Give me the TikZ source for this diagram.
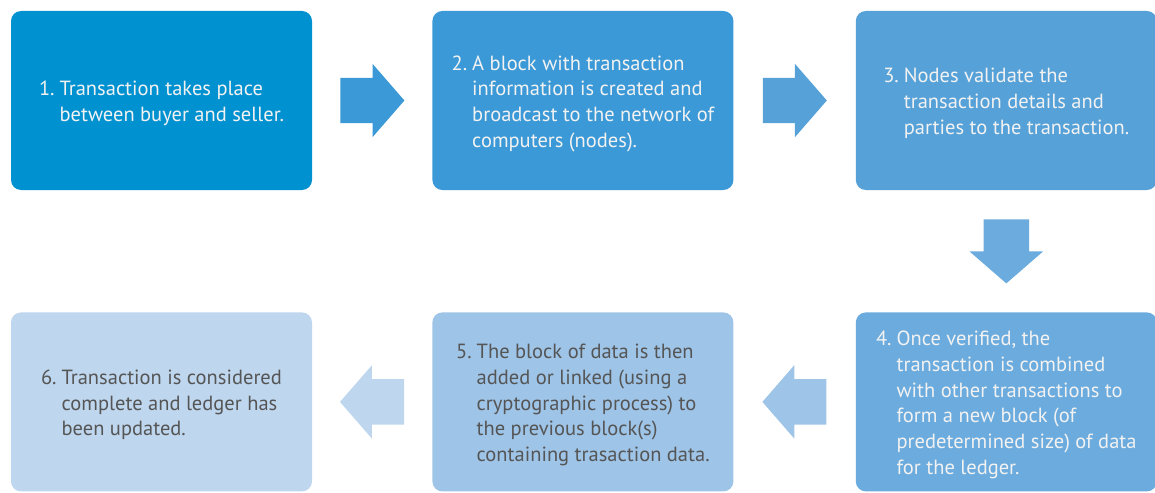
\documentclass[tikz,border=0pt]{standalone}
\usepackage{fontspec}
\setmainfont{PT Sans}
\usetikzlibrary{positioning, shapes.arrows, calc}

\definecolor{stepA}{HTML}{0091D0}
\definecolor{stepB}{HTML}{3A99D6}
\definecolor{stepC}{HTML}{55A1D8}
\definecolor{stepD}{HTML}{6BABDD}
\definecolor{stepE}{HTML}{9EC4E7}
\definecolor{stepF}{HTML}{BED6EE}
\definecolor{darktext}{HTML}{555555}

\newcommand{\steptext}[3]{%
  \raisebox{-3pt}[\height][\depth]{%
  \begin{tabular}{@{}l@{\hspace{5pt}}l@{}}#1 & #2\\#3\end{tabular}}}

\begin{document}
\begin{tikzpicture}[
  stepbox/.style={rectangle, rounded corners=10pt, minimum width=301pt,
    minimum height=179pt, inner sep=0pt, text=white!95!black,
    font=\fontsize{20.5}{25.7}\selectfont},
  paletext/.style={text=darktext},
  blockarrow/.style={single arrow, minimum height=64pt, inner xsep=0pt,
    inner ysep=22.5pt, single arrow head extend=14pt,
    single arrow tip angle=98, anchor=tail}
]
\useasboundingbox (0,0) rectangle (1155pt,-492pt);
% === TOP ROW ===
\node[stepbox, fill=stepA] (s1) at (161.5pt,-100.5pt)
  {\steptext{1.}{Transaction takes place}{& between buyer and seller.}};
\node[stepbox, fill=stepB, right=120pt of s1] (s2)
  {\steptext{2.}{A block with transaction}{& information is created and\\
   & broadcast to the network of\\ & computers (nodes).}};
\node[stepbox, fill=stepC, right=122pt of s2] (s3)
  {\steptext{3.}{Nodes validate the}{& transaction details and\\
   & parties to the transaction.}};
% === BOTTOM ROW ===
\node[stepbox, fill=stepD, below=122pt of s3] (s4)
  {\steptext{4.}{Once verified, the}{& transaction is combined\\
   & with other transactions to\\ & form a new block (of\\
   & predetermined size) of data\\ & for the ledger.}};
\node[stepbox, paletext, fill=stepE, left=122pt of s4] (s5)
  {\steptext{5.}{The block of data is then}{& added or linked (using a\\
   & cryptographic process) to\\ & the previous block(s)\\
   & containing trasaction data.}};
\node[stepbox, paletext, fill=stepF, left=120pt of s5] (s6)
  {\steptext{6.}{Transaction is considered}{& complete and ledger has\\
   & been updated.}};
% === ARROWS ===
\node[blockarrow, fill=stepB] (a12) at ($(s1.east)!0.5!(s2.west)+(-32pt,0)$) {};
\node[blockarrow, fill=stepC] (a23) at ($(s2.east)!0.5!(s3.west)+(-32pt,0)$) {};
\node[blockarrow, fill=stepD, rotate=-90] (a34) at ($(s3.south)!0.5!(s4.north)+(0,32pt)$) {};
\node[blockarrow, fill=stepE, rotate=180] (a45) at ($(s4.west)!0.5!(s5.east)+(32pt,0)$) {};
\node[blockarrow, fill=stepF, rotate=180] (a56) at ($(s5.west)!0.5!(s6.east)+(32pt,0)$) {};
\end{tikzpicture}
\end{document}
